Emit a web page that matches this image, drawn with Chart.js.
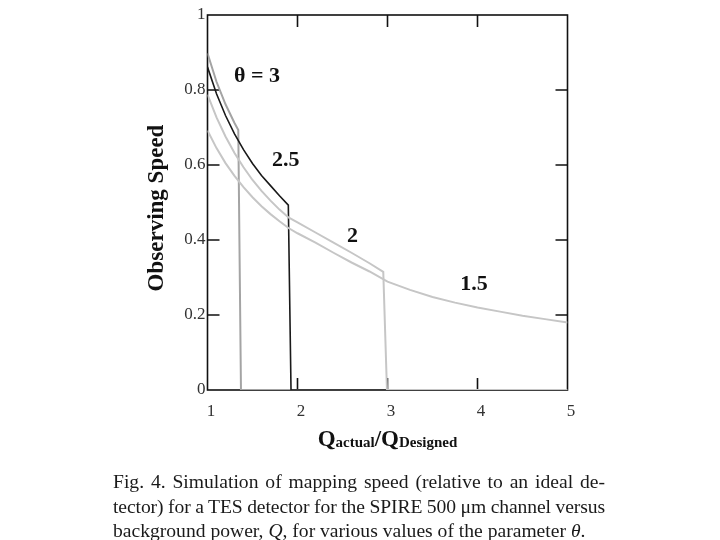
<!DOCTYPE html>
<html>
<head>
<meta charset="utf-8">
<script src="https://cdn.jsdelivr.net/npm/chart.js@4/dist/chart.umd.min.js"></script>
<style>
  html, body { margin: 0; padding: 0; background: #fff; }
  #wrap { position: relative; width: 720px; height: 540px; }
  #c { position: absolute; left: 0; top: 0; }
  #caption { position: absolute; left: 113px; top: 470px; width: 492px;
             font-family: "Liberation Serif", "DejaVu Serif", serif; font-size: 19.6px;
             line-height: 24.5px; color: #1a1a1a; }
  .j { text-align: justify; text-align-last: justify; white-space: nowrap; }
  .tight { word-spacing: -2px; letter-spacing: -0.1px; }
  .l { text-align: left; white-space: nowrap; }
</style>
</head>
<body>
<div id="wrap">
  <canvas id="c" width="720" height="540"></canvas>
  <div id="caption">
    <div class="j">Fig. 4. Simulation of mapping speed (relative to an ideal de-</div>
    <div class="j tight">tector) for a TES detector for the SPIRE 500 μm channel versus</div>
    <div class="l">background power, <i>Q</i>, for various values of the parameter <i>θ</i>.</div>
  </div>
</div>
<script>
// ---- data ----
const xTickValues = [1, 2, 3, 4, 5];
const yTickValues = [0, 0.2, 0.4, 0.6, 0.8, 1];

const qTheta3 = [1.0, 1.1, 1.2, 1.3, 1.342, 1.372, 5.0];
const vTheta3 = [0.898, 0.822, 0.762, 0.712, 0.693, 0, 0];

const qTheta25 = [1.0, 1.1, 1.2, 1.3, 1.4, 1.5, 1.6, 1.7, 1.8, 1.898, 1.928, 5.0];
const vTheta25 = [0.861, 0.790, 0.732, 0.683, 0.641, 0.604, 0.572, 0.545, 0.518, 0.493, 0, 0];

const qTheta2 = [1.0, 1.1, 1.2, 1.3, 1.4, 1.5, 1.6, 1.7, 1.8, 1.9, 2.0, 2.2, 2.4, 2.6, 2.8, 2.953, 2.994, 5.0];
const vTheta2 = [0.788, 0.727, 0.676, 0.632, 0.594, 0.560, 0.531, 0.505, 0.481, 0.460, 0.447, 0.420, 0.393, 0.366, 0.338, 0.315, 0, 0];

const qTheta15 = [1.0, 1.1, 1.2, 1.3, 1.4, 1.5, 1.6, 1.7, 1.8, 1.9, 2.0, 2.2, 2.4, 2.6, 2.8, 3.0, 3.25, 3.5, 3.75, 4.0, 4.25, 4.5, 4.75, 5.0];
const vTheta15 = [0.692, 0.645, 0.605, 0.571, 0.541, 0.514, 0.490, 0.469, 0.450, 0.432, 0.418, 0.393, 0.366, 0.340, 0.316, 0.289, 0.267, 0.248, 0.233, 0.220, 0.209, 0.198, 0.189, 0.180];

const curveLabels = ['θ = 3', '2.5', '2', '1.5'];
const labelQ = [1.55, 1.87, 2.61, 3.96];
const labelV = [0.837, 0.613, 0.411, 0.283];

function pts(q, v) { return q.map((x, i) => ({ x: x, y: v[i] })); }

const SERIF = '"Liberation Serif", "DejaVu Serif", serif';

const framePlugin = {
  id: 'frame',
  beforeDatasetsDraw(chart) {
    const { ctx, chartArea: a, scales } = chart;
    ctx.save();
    ctx.strokeStyle = '#111';
    ctx.lineWidth = 1.6;
    ctx.strokeRect(a.left, a.top, a.right - a.left, a.bottom - a.top);
    const tl = 12;
    ctx.beginPath();
    xTickValues.forEach(v => {
      if (v === 1 || v === 5) return;
      const px = scales.x.getPixelForValue(v);
      ctx.moveTo(px, a.bottom); ctx.lineTo(px, a.bottom - tl);
      ctx.moveTo(px, a.top); ctx.lineTo(px, a.top + tl);
    });
    yTickValues.forEach(v => {
      if (v === 0 || v === 1) return;
      const py = scales.y.getPixelForValue(v);
      ctx.moveTo(a.left, py); ctx.lineTo(a.left + tl, py);
      ctx.moveTo(a.right, py); ctx.lineTo(a.right - tl, py);
    });
    ctx.stroke();
    ctx.restore();
  },
  afterDatasetsDraw(chart) {
    const { ctx, scales } = chart;
    ctx.save();
    ctx.fillStyle = '#111';
    ctx.font = 'bold 22px ' + SERIF;
    ctx.textAlign = 'center';
    ctx.textBaseline = 'middle';
    curveLabels.forEach((t, i) => {
      ctx.fillText(t, scales.x.getPixelForValue(labelQ[i]), scales.y.getPixelForValue(labelV[i]));
    });
    // y axis title
    ctx.save();
    ctx.translate(157, 208);
    ctx.rotate(-Math.PI / 2);
    ctx.font = 'bold 23px ' + SERIF;
    ctx.fillText('Observing Speed', 0, 0);
    ctx.restore();
    // x axis title with subscripts
    ctx.textAlign = 'left';
    ctx.textBaseline = 'alphabetic';
    const parts = [['Q', 23], ['actual', 15], ['/', 23], ['Q', 23], ['Designed', 15]];
    let w = 0;
    parts.forEach(p => { ctx.font = 'bold ' + p[1] + 'px ' + SERIF; w += ctx.measureText(p[0]).width; });
    let x = 387.5 - w / 2;
    const base = 446;
    parts.forEach(p => {
      ctx.font = 'bold ' + p[1] + 'px ' + SERIF;
      ctx.fillText(p[0], x, base + (p[1] < 20 ? 1 : 0));
      x += ctx.measureText(p[0]).width;
    });
    ctx.restore();
  }
};

const ds = (label, q, v, color, width) => ({
  label: label, data: pts(q, v), borderColor: color, borderWidth: width,
  pointRadius: 0, fill: false, tension: 0, showLine: true
});

new Chart(document.getElementById('c'), {
  type: 'scatter',
  data: {
    datasets: [
      ds('θ = 1.5', qTheta15, vTheta15, '#c6c6c6', 2),
      ds('θ = 2', qTheta2, vTheta2, '#c6c6c6', 2),
      ds('θ = 2.5', qTheta25, vTheta25, '#1a1a1a', 1.6),
      ds('θ = 3', qTheta3, vTheta3, '#a4a4a4', 2)
    ]
  },
  options: {
    responsive: false,
    animation: false,
    layout: { padding: { top: 15, right: 152.5, bottom: 0, left: 0 } },
    plugins: { legend: { display: false }, tooltip: { enabled: false } },
    scales: {
      x: {
        type: 'linear', min: 1, max: 5,
        afterFit(s) { s.height = 150; },
        afterBuildTicks(s) { s.ticks = xTickValues.map(v => ({ value: v })); },
        grid: { display: false, drawTicks: false },
        border: { display: false },
        ticks: { color: '#333', font: { family: SERIF, size: 17 }, padding: 11, labelOffset: 3.5, maxRotation: 0,
                 callback: v => String(v) }
      },
      y: {
        type: 'linear', min: 0, max: 1,
        afterFit(s) { s.width = 207.5; },
        afterBuildTicks(s) { s.ticks = yTickValues.map(v => ({ value: v })); },
        grid: { display: false, drawTicks: false },
        border: { display: false },
        ticks: { color: '#333', font: { family: SERIF, size: 17 }, padding: 2,
                 callback: v => String(v) }
      }
    }
  },
  plugins: [framePlugin]
});
</script>
</body>
</html>
